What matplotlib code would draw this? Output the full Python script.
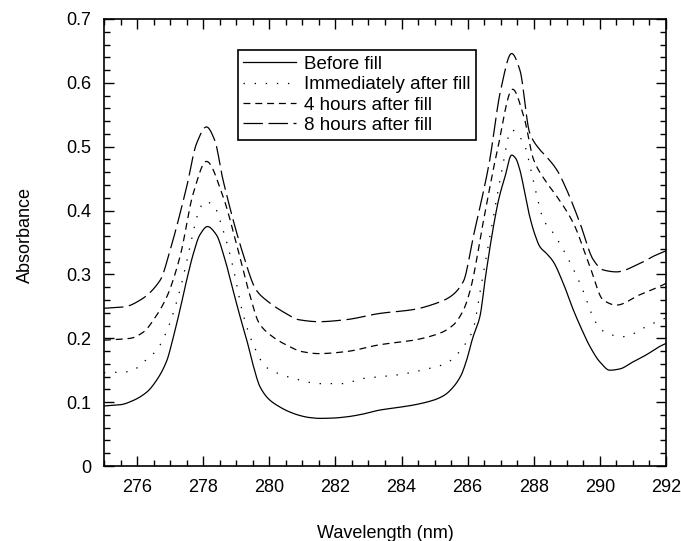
import numpy as np
import matplotlib
matplotlib.use("Agg")
import matplotlib.pyplot as plt
from matplotlib.ticker import MultipleLocator

plt.rcParams['font.family'] = ['Liberation Sans', 'DejaVu Sans']
plt.rcParams['lines.scale_dashes'] = False

# Before fill
x_before = [275.0, 275.5, 275.9, 276.3, 276.6, 276.9, 277.1, 277.3, 277.5, 277.7, 277.9, 278.13,
            278.4, 278.65, 278.9, 279.1, 279.32, 279.5, 279.72, 280.0, 280.3, 280.6, 280.93, 281.2,
            281.53, 281.9, 282.34, 282.8, 283.35, 283.8, 284.36, 284.96, 285.3, 285.57, 285.8,
            285.97, 286.15, 286.37, 286.55, 286.78, 286.95, 287.13, 287.33, 287.45, 287.58, 287.72,
            287.88, 288.05, 288.19, 288.4, 288.59, 288.9, 289.2, 289.45, 289.7, 290.0, 290.3, 290.6,
            291.0, 291.4, 291.8, 292.0]
y_before = [0.094, 0.096, 0.103, 0.116, 0.135, 0.165, 0.2025, 0.245, 0.291, 0.332, 0.362, 0.375,
            0.362, 0.325, 0.276, 0.237, 0.197, 0.16, 0.124, 0.104, 0.093, 0.085, 0.079, 0.076,
            0.0746, 0.075, 0.077, 0.081, 0.0877, 0.091, 0.0955, 0.103, 0.111, 0.124, 0.142,
            0.166, 0.2, 0.234, 0.3, 0.375, 0.42, 0.453, 0.487, 0.482, 0.4635, 0.43,
            0.39, 0.36, 0.343, 0.332, 0.32, 0.285, 0.244, 0.214, 0.187, 0.163, 0.150, 0.152,
            0.163, 0.174, 0.187, 0.192]

# Immediately after fill
x_immed = [275.0, 275.8, 276.2, 276.6, 276.95, 277.3, 277.6, 277.85, 278.05, 278.3, 278.6, 278.9,
           279.2, 279.5, 279.9, 280.4, 280.9, 281.5, 282.2, 282.84, 283.85, 284.86, 285.36, 285.7,
           286.0, 286.17, 286.4, 286.6, 287.0, 287.33, 287.7, 288.0, 288.3, 288.6, 288.9, 289.4,
           289.9, 290.2, 290.7, 291.5, 292.0]
y_immed = [0.146, 0.148, 0.163, 0.182, 0.218, 0.276, 0.343, 0.396, 0.414, 0.409, 0.37, 0.312,
           0.239, 0.192, 0.155, 0.1425, 0.135, 0.129, 0.129, 0.137, 0.1425, 0.153, 0.161, 0.176,
           0.197, 0.215, 0.28, 0.338, 0.453, 0.526, 0.505, 0.443, 0.385, 0.364, 0.338, 0.286,
           0.223, 0.208, 0.2025, 0.221, 0.232]

# 4 hours after fill
x_4h = [275.0, 275.8, 276.2, 276.5, 276.9, 277.3, 277.7, 278.1, 278.6, 279.0, 279.4, 279.7,
        280.1, 280.5, 281.0, 281.5, 282.3, 283.35, 284.36, 285.16, 285.57, 285.87, 286.1, 286.5,
        286.9, 287.36, 287.7, 288.0, 288.4, 288.7, 289.2, 289.7, 290.1, 290.5, 291.2, 291.8, 292.0]
y_4h = [0.197, 0.2, 0.21, 0.229, 0.265, 0.328, 0.427, 0.477, 0.422, 0.349, 0.27, 0.223,
        0.2025, 0.19, 0.179, 0.176, 0.179, 0.19, 0.197, 0.208, 0.221, 0.244, 0.28, 0.39,
        0.495, 0.59, 0.547, 0.479, 0.443, 0.422, 0.38, 0.312, 0.26, 0.252, 0.268, 0.281, 0.286]

# 8 hours after fill
x_8h = [275.0, 275.6, 276.1, 276.7, 277.0, 277.5, 277.8, 278.1, 278.35, 278.6, 279.2, 279.6,
        279.9, 280.5, 280.9, 281.5, 282.3, 283.35, 284.36, 285.06, 285.47, 285.87, 286.17, 286.65,
        287.0, 287.33, 287.58, 287.88, 288.19, 288.39, 288.7, 289.0, 289.4, 289.8, 290.1, 290.5,
        291.2, 291.6, 292.0]
y_8h = [0.247, 0.249, 0.26, 0.291, 0.338, 0.437, 0.505, 0.531, 0.51, 0.448, 0.333, 0.276,
        0.26, 0.239, 0.229, 0.226, 0.229, 0.239, 0.245, 0.255, 0.265, 0.289, 0.359, 0.474,
        0.589, 0.646, 0.62, 0.521, 0.495, 0.484, 0.4635, 0.432, 0.38, 0.323, 0.307, 0.304,
        0.317, 0.328, 0.337]

labels = ["Before fill", "Immediately after fill", "4 hours after fill", "8 hours after fill"]


def smooth(xs, ys):
    # monotone-ish cubic through the read points so curves look continuous
    xs = np.asarray(xs)
    ys = np.asarray(ys)
    xf = np.linspace(xs[0], xs[-1], 600)
    n = len(xs)
    m = np.zeros(n)
    d = np.diff(ys) / np.diff(xs)
    m[0], m[-1] = d[0], d[-1]
    for i in range(1, n - 1):
        if d[i - 1] * d[i] <= 0:
            m[i] = 0.0
        else:
            m[i] = 2.0 / (1.0 / d[i - 1] + 1.0 / d[i])
    idx = np.clip(np.searchsorted(xs, xf) - 1, 0, n - 2)
    h = xs[idx + 1] - xs[idx]
    t = (xf - xs[idx]) / h
    h00 = 2 * t**3 - 3 * t**2 + 1
    h10 = t**3 - 2 * t**2 + t
    h01 = -2 * t**3 + 3 * t**2
    h11 = t**3 - t**2
    yf = h00 * ys[idx] + h10 * h * m[idx] + h01 * ys[idx + 1] + h11 * h * m[idx + 1]
    return xf, yf


fig = plt.figure(figsize=(6.81, 5.41), dpi=100)
ax = fig.add_axes([0.1527, 0.1386, 0.8253, 0.8263])

lw = 0.9
ax.plot(*smooth(x_before, y_before), color='black', lw=lw, label=labels[0])
ax.plot(*smooth(x_immed, y_immed), color='black', lw=lw, dashes=(1.0, 7.0), label=labels[1])
ax.plot(*smooth(x_4h, y_4h), color='black', lw=lw, dashes=(5.0, 3.5), label=labels[2])
ax.plot(*smooth(x_8h, y_8h), color='black', lw=lw, dashes=(14.0, 4.0), label=labels[3])

ax.set_xlim(275, 292)
ax.set_ylim(0, 0.7)
ax.xaxis.set_minor_locator(MultipleLocator(0.5))
ax.yaxis.set_minor_locator(MultipleLocator(0.02))
ax.set_yticks(np.arange(0, 0.71, 0.1))
ax.set_yticklabels(["0", "0.1", "0.2", "0.3", "0.4", "0.5", "0.6", "0.7"])
ax.set_xticks(np.arange(276, 293, 2))
ax.set_xticklabels([str(v) for v in range(276, 293, 2)])

ax.tick_params(which='both', direction='in', top=True, right=True, width=1.0, labelsize=13)
ax.tick_params(which='major', length=7, pad=9)
ax.tick_params(which='minor', length=4)
for s in ax.spines.values():
    s.set_linewidth(1.2)

ax.set_xlabel("Wavelength (nm)", fontsize=13)
ax.set_ylabel("Absorbance", fontsize=13)
ax.xaxis.set_label_coords(0.5, -0.132)
ax.yaxis.set_label_coords(-0.125, 0.517)

leg = ax.legend(loc='upper left', bbox_to_anchor=(0.238, 0.93), fontsize=13.5, frameon=True,
                fancybox=False, edgecolor='black', framealpha=1, handlelength=2.8,
                handletextpad=0.45, borderpad=0.3, labelspacing=0.17, borderaxespad=0)
leg.get_frame().set_linewidth(1.2)

fig.savefig("out.png", dpi=100)
